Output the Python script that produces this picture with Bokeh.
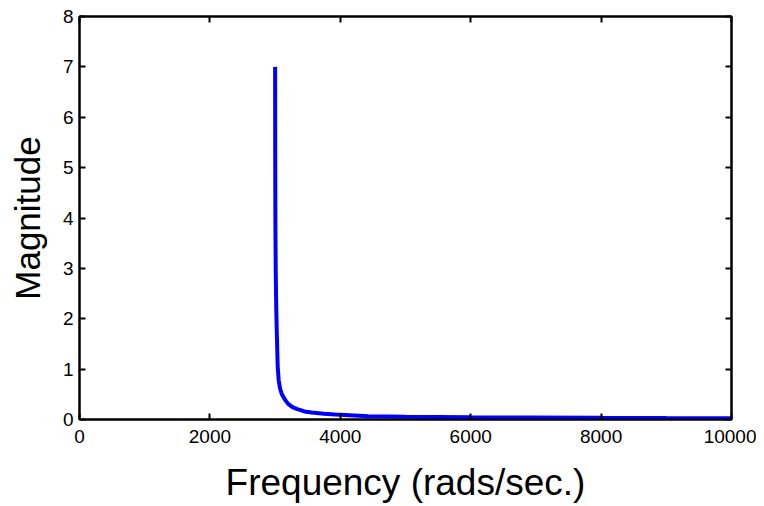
from bokeh.plotting import figure
from bokeh.models import Range1d, LinearAxis, FixedTicker
from bokeh.embed import file_html
from bokeh.resources import INLINE

# Data
frequency = [3000, 3002, 3005, 3010, 3018, 3025, 3040, 3055, 3075, 3100, 3130,
             3165, 3200, 3260, 3330, 3450, 3560, 3750, 3920, 4000, 4430, 5000,
             6000, 6920, 8000, 9000, 10000]
magnitude = [7.0, 5.2, 3.8, 2.9, 2.2, 1.77, 1.05, 0.78, 0.62, 0.51, 0.44,
             0.37, 0.31, 0.25, 0.21, 0.16, 0.14, 0.115, 0.10, 0.095, 0.066,
             0.055, 0.045, 0.040, 0.033, 0.028, 0.025]

x_ticks = [0, 2000, 4000, 6000, 8000, 10000]
y_ticks = [0, 1, 2, 3, 4, 5, 6, 7, 8]

FONT = "Liberation Sans"

p = figure(width=756, height=506, output_backend="svg", toolbar_location=None,
           x_range=Range1d(0, 10000), y_range=Range1d(0, 8),
           min_border_left=79, min_border_right=25, min_border_top=16,
           min_border_bottom=87, x_axis_label="Frequency (rads/sec.)",
           y_axis_label="Magnitude")
p.grid.visible = False
p.background_fill_color = "white"
p.border_fill_color = "white"
p.outline_line_color = "black"
p.outline_line_width = 2

p.line(frequency, magnitude, line_color="#0000FF", line_width=4)

def style(ax, ticks, labels=True):
    ax.ticker = FixedTicker(ticks=ticks)
    ax.axis_line_color = "black"
    ax.axis_line_width = 2
    ax.major_tick_in = 6
    ax.major_tick_out = 0
    ax.major_tick_line_color = "black"
    ax.major_tick_line_width = 2
    ax.minor_tick_line_color = None
    ax.major_label_text_font = FONT
    ax.major_label_text_font_size = "19px"
    ax.major_label_text_color = "black"
    ax.axis_label_text_font = FONT
    ax.axis_label_text_font_style = "normal"
    ax.axis_label_text_color = "black"
    if not labels:
        ax.major_label_text_font_size = "0px"
        ax.major_label_text_color = None

for ax in p.xaxis:
    style(ax, x_ticks)
    ax.major_label_standoff = 10
    ax.axis_label_standoff = 16
    ax.axis_label_text_font_size = "37px"
for ax in p.yaxis:
    style(ax, y_ticks)
    ax.major_label_standoff = 6
    ax.axis_label_standoff = 13
    ax.axis_label_text_font_size = "35px"

top = LinearAxis()
style(top, x_ticks, labels=False)
p.add_layout(top, "above")
right = LinearAxis()
style(right, y_ticks, labels=False)
p.add_layout(right, "right")

open("out.html", "w").write(file_html(p, INLINE))
